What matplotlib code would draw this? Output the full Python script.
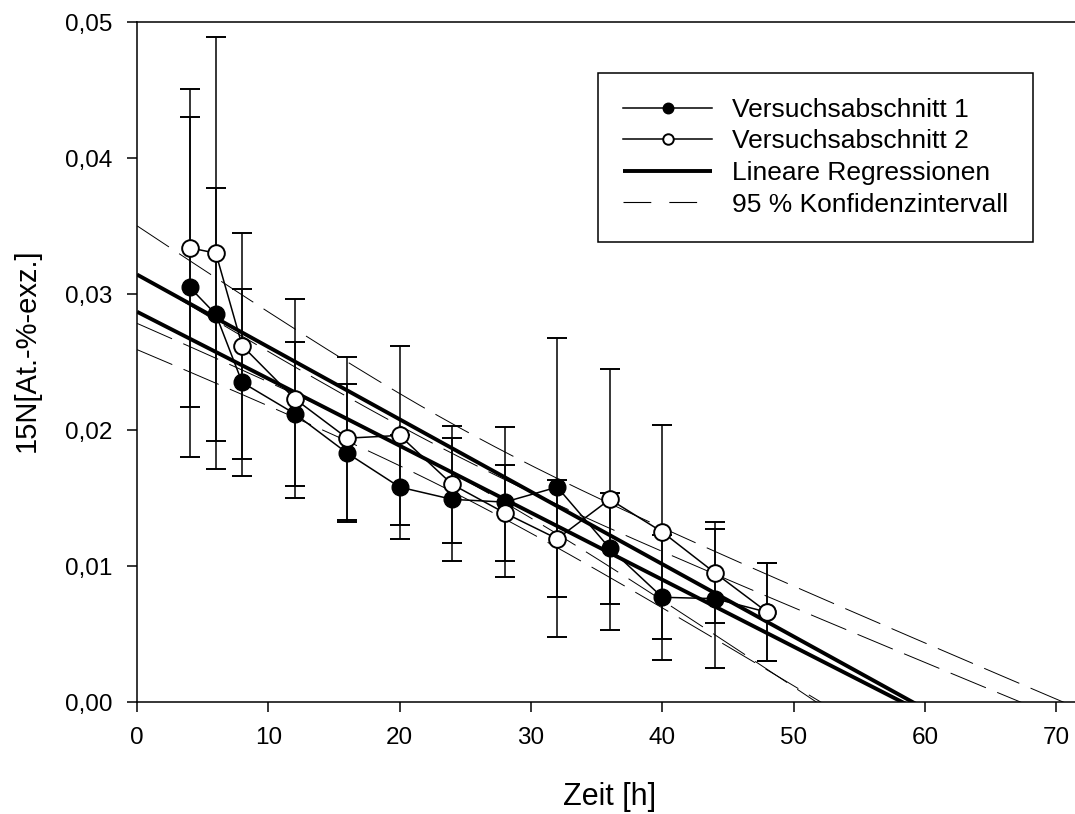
import numpy as np
import matplotlib
matplotlib.use('Agg')
import matplotlib.pyplot as plt
from matplotlib.lines import Line2D

plt.rcParams['font.family'] = ['Liberation Sans', 'DejaVu Sans']
plt.rcParams['lines.scale_dashes'] = False

# ---------------- data ----------------
time_h = [4, 6, 8, 12, 16, 20, 24, 28, 32, 36, 40, 44, 48]

abschnitt1 = [0.0305, 0.0285, 0.0235, 0.0212, 0.0183, 0.0158, 0.0149,
              0.0147, 0.0158, 0.0113, 0.0077, 0.0076, 0.0066]
abschnitt1_err = [0.0125, 0.0093, 0.0069, 0.0053, 0.0051, 0.0038, 0.0045,
                  0.0055, 0.0110, 0.0041, 0.0046, 0.0051, 0.0036]

abschnitt2 = [0.0334, 0.0330, 0.0262, 0.0223, 0.0194, 0.0196, 0.0160,
              0.0139, 0.0120, 0.0149, 0.0125, 0.0095, 0.0066]
abschnitt2_err = [0.0117, 0.0159, 0.0083, 0.0073, 0.0060, 0.0066, 0.0043,
                  0.0035, 0.0043, 0.0096, 0.0079, 0.0037, 0.0036]

t_95 = 2.201  # Student t, 95 %, df = n - 2 = 11

x_ticks = [0, 10, 20, 30, 40, 50, 60, 70]
x_ticklabels = ['0', '10', '20', '30', '40', '50', '60', '70']
y_ticks = [0.00, 0.01, 0.02, 0.03, 0.04, 0.05]
y_ticklabels = ['0,00', '0,01', '0,02', '0,03', '0,04', '0,05']

labels = ['Versuchsabschnitt 1', 'Versuchsabschnitt 2',
          'Lineare Regressionen', '95 % Konfidenzintervall']
x_label = 'Zeit [h]'
y_label = '15N[At.-%-exz.]'


def regression_with_ci(x, y, xs, t):
    x = np.asarray(x, float)
    y = np.asarray(y, float)
    n = len(x)
    slope, intercept = np.polyfit(x, y, 1)
    resid = y - (intercept + slope * x)
    s = np.sqrt(np.sum(resid ** 2) / (n - 2))
    xm = x.mean()
    sxx = np.sum((x - xm) ** 2)
    fit = intercept + slope * xs
    hw = t * s * np.sqrt(1.0 / n + (xs - xm) ** 2 / sxx)
    return fit, hw


# ---------------- figure ----------------
W, H = 1075, 814
fig = plt.figure(figsize=(W / 100, H / 100), dpi=100)
px_per_unit = 13.13
ax = fig.add_axes([137.1 / W, (H - 702) / H, 72 * px_per_unit / W, 680 / H])

xs = np.linspace(0, 72, 400)
ci_dash = (27.5, 8.8)
for series in (abschnitt1, abschnitt2):
    fit, hw = regression_with_ci(time_h, series, xs, t_95)
    ax.plot(xs, fit + hw, color='black', lw=0.7, dashes=ci_dash, zorder=1)
    ax.plot(xs, fit - hw, color='black', lw=0.7, dashes=ci_dash, zorder=1)
    reg_line, = ax.plot(xs, fit, color='black', lw=2.8, zorder=2,
                        solid_capstyle='butt')

eb1 = ax.errorbar(time_h, abschnitt1, yerr=abschnitt1_err, fmt='-o',
                  color='black', mfc='black', mec='black', ms=12, lw=1.1,
                  elinewidth=1.1, capsize=7.2, capthick=1.4, zorder=3)
eb2 = ax.errorbar(time_h, abschnitt2, yerr=abschnitt2_err, fmt='-o',
                  color='black', mfc='white', mec='black', mew=1.4, ms=12,
                  lw=1.1, elinewidth=1.1, capsize=7.2, capthick=1.4, zorder=4)

ax.set_xlim(0, 72)
ax.set_ylim(0, 0.05)
ax.set_xticks(x_ticks)
ax.set_xticklabels(x_ticklabels)
ax.set_yticks(y_ticks)
ax.set_yticklabels(y_ticklabels)
ax.tick_params(direction='out', length=7, width=1.1, labelsize=17.5, pad=11,
               colors='black')
for side in ('left', 'bottom', 'top'):
    ax.spines[side].set_linewidth(1.1)
ax.spines['right'].set_visible(False)

ax.set_xlabel(x_label, fontsize=22)
ax.set_ylabel(y_label, fontsize=21)
ax.xaxis.set_label_coords(0.5, -0.117)
ax.yaxis.set_label_coords(-0.102, 0.518)

ci_proxy = Line2D([], [], color='black', lw=0.8, dashes=(20, 13))
leg = ax.legend([eb1.lines[0], eb2.lines[0], reg_line, ci_proxy], labels,
                loc='upper left', bbox_to_anchor=(598.3 / W, 1 - 72.7 / H),
                bbox_transform=fig.transFigure, borderaxespad=0,
                fontsize=19, frameon=True, fancybox=False, framealpha=1,
                edgecolor='black', markerscale=0.63, handlelength=3.35,
                handletextpad=0.75, labelspacing=0.29, borderpad=0.95)
leg.get_frame().set_linewidth(1.1)

fig.savefig('out.png', dpi=100)
